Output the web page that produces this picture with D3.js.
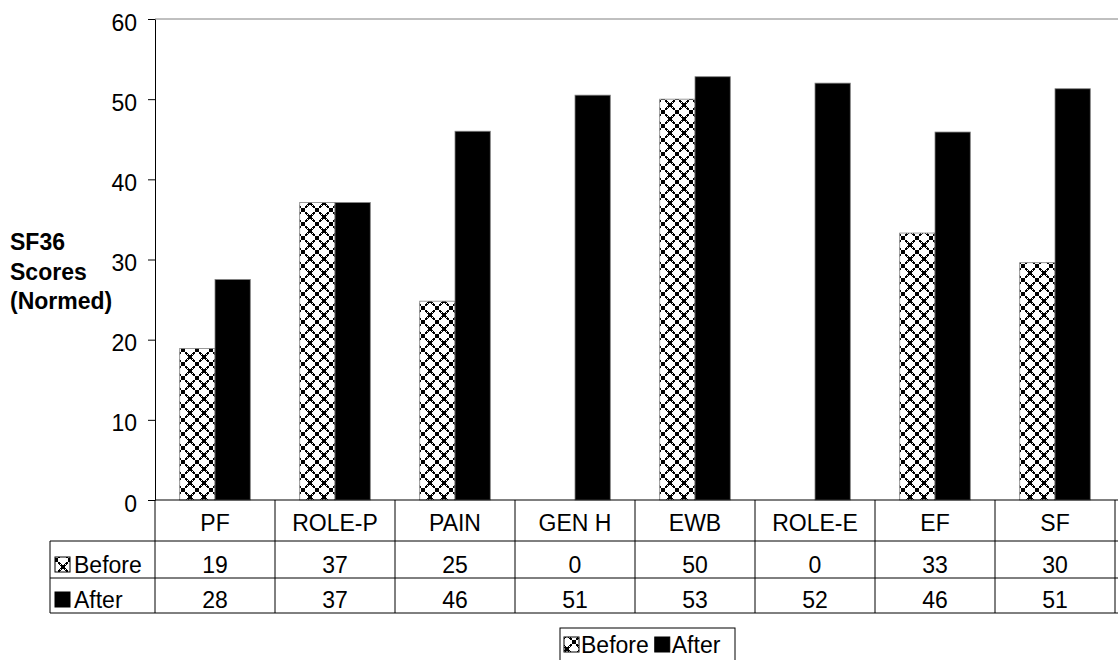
<!DOCTYPE html>
<html>
<head>
<meta charset="utf-8">
<script src="https://cdn.jsdelivr.net/npm/d3@7"></script>
<style>
  body { margin: 0; background: #fff; }
  text { font-family: Arial, "Liberation Sans", sans-serif; }
</style>
</head>
<body>
<div id="chart"></div>
<script>
// SF36 normed scores before / after
const categories = ["PF", "ROLE-P", "PAIN", "GEN H", "EWB", "ROLE-E", "EF", "SF"];
const series = ["Before", "After"];
const before = [18.9, 37.1, 24.8, 0, 50.0, 0, 33.3, 29.6];
const after = [27.5, 37.1, 46.0, 50.5, 52.8, 52.0, 45.9, 51.3];
const yTicks = [0, 10, 20, 30, 40, 50, 60];

const width = 1118, height = 660;
const plotLeft = 155, plotRight = 1115, plotTop = 19, plotBottom = 500;
const rowLine1 = 541, rowLine2 = 578, rowLine3 = 613, tableLeft = 50;
const fontSize = 23;

const svg = d3.select("#chart")
  .append("svg")
    .attr("width", width)
    .attr("height", height)
    .attr("viewBox", [0, 0, width, height]);

// cross-hatch pattern for "Before"
const defs = svg.append("defs");
const pat = defs.append("pattern")
    .attr("id", "hatch")
    .attr("patternUnits", "userSpaceOnUse")
    .attr("width", 14)
    .attr("height", 14);
pat.append("rect").attr("width", 14).attr("height", 14).attr("fill", "white");
pat.append("path")
    .attr("d", "M0,0 L14,14 M14,0 L0,14")
    .attr("stroke", "black")
    .attr("stroke-width", 1.5)
    .attr("stroke-dasharray", "2.5,1")
    .attr("shape-rendering", "crispEdges");

const fills = { Before: "url(#hatch)", After: "black" };

const x0 = d3.scaleBand().domain(categories).range([plotLeft, plotRight]).padding(0);
const x1 = d3.scaleBand().domain(series).range([0, x0.bandwidth()]).paddingInner(0).paddingOuter(0.7);
const y = d3.scaleLinear().domain([0, 60]).range([plotBottom, plotTop]);

// top border of plot area
svg.append("line")
    .attr("x1", plotLeft).attr("x2", width)
    .attr("y1", y(60)).attr("y2", y(60))
    .attr("stroke", "#808080");

// bars
const rows = categories.map((c, i) => ({ cat: c, Before: before[i], After: after[i] }));
const groups = svg.append("g")
  .selectAll("g")
  .data(rows)
  .join("g")
    .attr("transform", d => `translate(${x0(d.cat)},0)`);

groups.selectAll("rect")
  .data(d => series.map(s => ({ key: s, value: d[s] })))
  .join("rect")
    .attr("x", d => x1(d.key))
    .attr("width", x1.bandwidth())
    .attr("y", d => y(d.value))
    .attr("height", d => y(0) - y(d.value))
    .attr("fill", d => fills[d.key])
    .attr("stroke", d => d.value > 0 ? "#808080" : "none")
    .attr("stroke-width", 0.8);

// y axis
const yAxis = svg.append("g")
    .attr("transform", `translate(${plotLeft},0)`)
    .call(d3.axisLeft(y).tickValues(yTicks).tickSize(7).tickPadding(11).tickSizeOuter(0));
yAxis.select(".domain").attr("stroke", "black");
yAxis.selectAll(".tick line").attr("stroke", "black");
yAxis.selectAll("text")
    .attr("font-size", fontSize)
    .attr("font-family", "Arial, 'Liberation Sans', sans-serif")
    .attr("fill", "black")
    .attr("dy", "11");

// y label
svg.append("text")
    .attr("x", 10)
    .attr("y", 250)
    .attr("font-size", fontSize)
    .attr("font-weight", "bold")
  .selectAll("tspan")
  .data(["SF36", "Scores", "(Normed)"])
  .join("tspan")
    .attr("x", 10)
    .attr("dy", (d, i) => i === 0 ? 0 : 29.5)
    .text(d => d);

// data table grid
const grid = svg.append("g").attr("stroke", "black").attr("stroke-width", 1);
grid.append("line").attr("x1", plotLeft).attr("x2", width).attr("y1", plotBottom).attr("y2", plotBottom);
[rowLine1, rowLine2, rowLine3].forEach(yy =>
  grid.append("line").attr("x1", tableLeft).attr("x2", width).attr("y1", yy).attr("y2", yy));
grid.append("line").attr("x1", tableLeft).attr("x2", tableLeft).attr("y1", rowLine1).attr("y2", rowLine3);
grid.selectAll("line.col")
  .data(categories.concat(["end"]))
  .join("line")
    .attr("class", "col")
    .attr("x1", (d, i) => plotLeft + i * x0.step())
    .attr("x2", (d, i) => plotLeft + i * x0.step())
    .attr("y1", plotBottom)
    .attr("y2", rowLine3);

// category labels
svg.append("g")
  .selectAll("text")
  .data(categories)
  .join("text")
    .attr("x", d => x0(d) + x0.bandwidth() / 2)
    .attr("y", rowLine1 - 10)
    .attr("text-anchor", "middle")
    .attr("font-size", fontSize)
    .text(d => d);

// table values
const tableRows = [
  { key: "Before", values: before, base: rowLine2 - 5 },
  { key: "After", values: after, base: rowLine3 - 5 }
];
tableRows.forEach(r => {
  svg.append("g")
    .selectAll("text")
    .data(r.values)
    .join("text")
      .attr("x", (d, i) => x0(categories[i]) + x0.bandwidth() / 2)
      .attr("y", r.base)
      .attr("text-anchor", "middle")
      .attr("font-size", fontSize)
      .text(d => Math.round(d));
  svg.append("rect")
      .attr("x", tableLeft + 5)
      .attr("y", r.base - 16)
      .attr("width", 15)
      .attr("height", 15)
      .attr("fill", r.key === "Before" ? "url(#hatch)" : "black")
      .attr("stroke", "black")
      .attr("stroke-width", 1);
  svg.append("text")
      .attr("x", tableLeft + 24)
      .attr("y", r.base)
      .attr("font-size", fontSize)
      .text(r.key);
});

// legend
const lg = svg.append("g").attr("transform", "translate(560,628)");
lg.append("rect")
    .attr("width", 175).attr("height", 40)
    .attr("fill", "white").attr("stroke", "black");
let lx = 4;
series.forEach(s => {
  lg.append("rect")
      .attr("x", lx).attr("y", 9)
      .attr("width", 15).attr("height", 15)
      .attr("fill", fills[s]).attr("stroke", "black");
  const t = lg.append("text")
      .attr("x", lx + 17).attr("y", 25)
      .attr("font-size", fontSize)
      .text(s);
  lx += 17 + t.node().getComputedTextLength() + 6;
});
</script>
</body>
</html>
